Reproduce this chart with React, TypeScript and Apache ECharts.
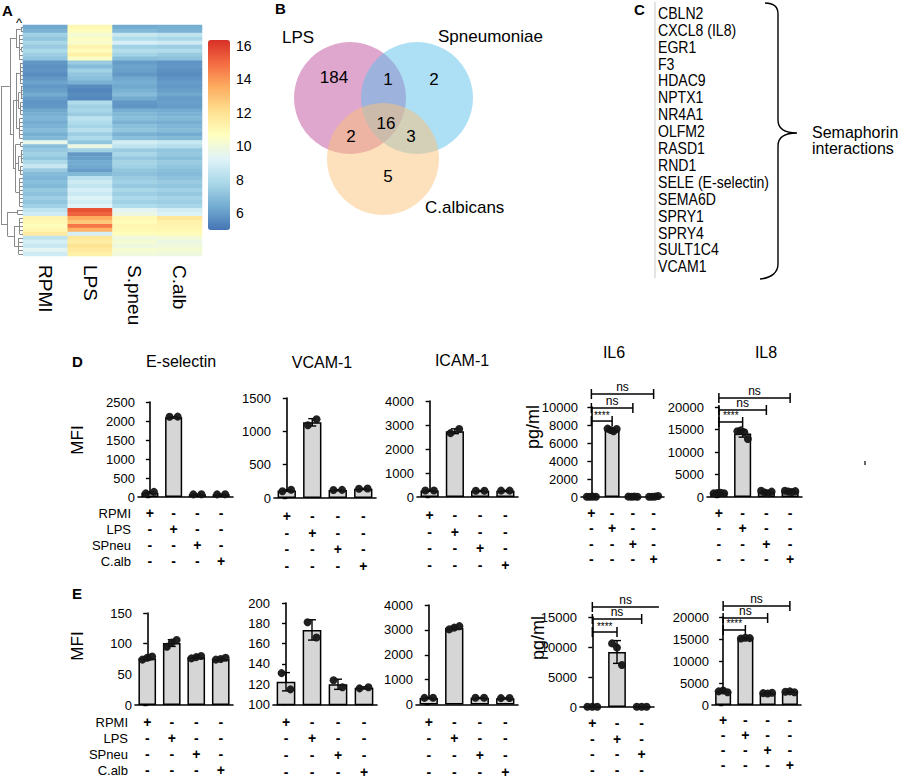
import React, { useEffect, useRef } from "react";
import * as echarts from "echarts";

// ---------------- DATA ----------------
const heatCols = ["RPMI", "LPS", "S.pneu", "C.alb"];
// rows top -> bottom, values per column (RPMI, LPS, S.pneu, C.alb)
const heatRows: number[][] = [
  [6.3, 11.0, 6.4, 6.5], [6.6, 10.8, 6.8, 6.6], [7.6, 10.2, 8.6, 8.4], [7.2, 10.6, 8.0, 7.8],
  [7.8, 10.4, 9.0, 8.8], [7.4, 11.2, 7.6, 7.5], [7.9, 10.9, 8.1, 8.0], [7.5, 11.4, 7.7, 7.4],
  [7.2, 10.5, 7.0, 7.1], [5.9, 7.4, 6.0, 5.8], [5.7, 6.9, 6.2, 5.9], [5.8, 7.6, 6.1, 5.7],
  [5.6, 7.2, 5.9, 5.6], [5.9, 7.0, 6.3, 5.8], [6.2, 6.6, 6.5, 6.0], [5.9, 5.6, 6.3, 5.9],
  [6.1, 5.4, 6.6, 6.1], [6.4, 5.6, 6.9, 6.3], [6.0, 5.5, 6.4, 6.0], [5.8, 8.0, 5.9, 6.1],
  [5.9, 7.6, 5.8, 6.0], [6.3, 7.8, 6.5, 6.4], [6.5, 7.4, 6.8, 6.6], [6.7, 8.3, 7.0, 6.8],
  [6.4, 8.0, 6.6, 6.5], [6.6, 7.7, 7.0, 6.7], [6.9, 8.2, 7.2, 6.9], [6.5, 7.5, 6.6, 6.4],
  [6.8, 7.9, 7.0, 6.8], [9.6, 7.2, 8.9, 8.6], [7.0, 9.8, 8.4, 8.1], [7.3, 7.6, 7.4, 7.2],
  [7.6, 5.9, 7.8, 7.3], [7.2, 6.1, 7.3, 7.0], [7.9, 6.4, 7.7, 7.4], [8.6, 6.3, 7.6, 7.2],
  [7.4, 6.0, 7.2, 7.0], [6.9, 6.8, 7.1, 6.9], [6.7, 8.3, 7.4, 7.1], [7.0, 8.8, 7.6, 7.4],
  [6.8, 8.5, 7.3, 7.2], [7.3, 9.0, 7.8, 7.6], [7.1, 8.7, 7.5, 7.3], [7.5, 9.2, 7.9, 7.7],
  [7.2, 8.9, 7.6, 7.5], [7.6, 9.3, 8.0, 7.8], [8.4, 15.6, 9.4, 8.9], [8.8, 15.2, 9.8, 9.2],
  [11.2, 13.6, 11.0, 11.8], [11.0, 12.8, 10.9, 11.3], [10.8, 14.8, 11.1, 11.2], [11.1, 13.4, 11.0, 11.0],
  [11.6, 9.0, 10.8, 10.9], [8.4, 11.8, 10.0, 10.1], [9.0, 11.5, 10.2, 9.8], [8.6, 12.0, 9.9, 10.0],
  [9.4, 11.7, 10.3, 10.2], [8.8, 11.4, 10.0, 9.9],
];
const colorbarTicks = [6, 8, 10, 12, 14, 16];
// dendrogram: [height, children], leaf = row index
const dendroTree: any = [1.0, [
  [0.6, [
    [0.32, [[0.1, [0, 1]], [0.18, [2, 3, 4, [0.08, [5, 6]], 7, 8]]]],
    [0.45, [
      [0.3, [[0.14, [9, 10, 11, 12, 13, 14]], [0.2, [[0.1, [15, 16, 17, 18]], [0.12, [19, 20, 21, 22]]]], [0.15, [23, 24, 25, 26, 27, 28]]]],
      [0.33, [[0.12, [29, 30]], [0.22, [[0.1, [31, 32, 33, 34]], [0.13, [35, 36, 37]]]], [0.16, [38, 39, 40, 41, 42, 43, 44, 45]]]],
    ]],
  ]],
  [0.7, [[0.25, [46, 47]], [0.4, [[0.15, [48, 49, 50, 51, 52]], [0.2, [53, 54, 55, 56, 57]]]]]],
]];

const vennSets = ["LPS", "Spneumoniae", "C.albicans"];
// LPS only, Spn only, Calb only, LPS∩Spn, LPS∩Calb, Spn∩Calb, all three
const vennCounts = [184, 2, 5, 1, 2, 3, 16];

const genes = ["CBLN2", "CXCL8 (IL8)", "EGR1", "F3", "HDAC9", "NPTX1", "NR4A1", "OLFM2", "RASD1", "RND1",
  "SELE (E-selectin)", "SEMA6D", "SPRY1", "SPRY4", "SULT1C4", "VCAM1"];
const geneGroup = ["Semaphorin", "interactions"];

const conditions = ["RPMI", "LPS", "SPneu", "C.alb"];
const catsAll = ["RPMI", "LPS", "SPneu", "C.alb"];
const catsIL6E = ["RPMI", "LPS", "SPneu"];
const panelTitles = ["E-selectin", "VCAM-1", "ICAM-1", "IL6", "IL8"];

// row D
const eselD_bars = [110, 2100, 70, 70];
const eselD_err = [20, 10, 5, 5];
const eselD_pts = [[95, 135], [2110, 2115], [70, 72], [70, 72]];
const vcamD_bars = [112, 1135, 120, 140];
const vcamD_err = [12, 55, 5, 5];
const vcamD_pts = [[100, 125], [1090, 1180], [120, 122], [140, 142]];
const icamD_bars = [270, 2740, 260, 265];
const icamD_err = [10, 100, 10, 10];
const icamD_pts = [[270, 272], [2660, 2830], [260, 262], [265, 267]];
const il6D_bars = [30, 7450, 40, 50];
const il6D_err = [10, 130, 10, 40];
const il6D_pts = [[30, 20, 40, 25], [7600, 7450, 7300, 7550], [40, 30, 50, 35], [20, 30, 40, 120]];
const il8D_bars = [870, 14100, 1100, 1250];
const il8D_err = [60, 800, 250, 120];
const il8D_pts = [[800, 900, 950, 850], [14600, 14800, 14400, 12900], [1400, 1000, 800, 1200], [1400, 1200, 1100, 1300]];
// row E
const eselE_bars = [76, 101, 78, 75];
const eselE_err = [2.5, 5.5, 2, 1.5];
const eselE_pts = [[74, 77, 79], [95, 102, 106], [76, 78, 80], [74, 75, 77]];
const vcamE_bars = [122.5, 173.5, 120, 116.5];
const vcamE_err = [9, 10, 5, 1];
const vcamE_pts = [[131, 115], [181, 166], [124, 117], [116, 117]];
const icamE_bars = [270, 3080, 275, 260];
const icamE_err = [10, 60, 10, 10];
const icamE_pts = [[270, 272], [3020, 3090, 3150], [275, 277], [260, 262]];
const il6E_bars = [40, 9170, 40];
const il6E_err = [10, 1900, 10];
const il6E_pts = [[30, 50, 40], [10600, 9900, 7000], [40, 50, 30]];
const il8E_bars = [3050, 15200, 2700, 3000];
const il8E_err = [200, 150, 100, 100];
const il8E_pts = [[3100, 3300, 2900], [15100, 15300, 15200], [2700, 2600, 2800], [3000, 3100, 2900]];

const sigPairs = [[0, 1, "****"], [0, 2, "ns"], [0, 3, "ns"]];

// ---------------- LAYOUT / STYLE ----------------
const FONT = "'Liberation Sans', Arial, sans-serif";

type PanelDef = {
  cats: string[]; bars: number[]; err: number[]; pts: number[][];
  min: number; max: number; interval: number; sig?: boolean;
  left: number; top: number; width: number; height: number; lh: number; margin: number;
  bracketY?: number[]; lastTo?: number; lastCap?: boolean;
};
const panels: PanelDef[] = [
  { cats: catsAll, bars: eselD_bars, err: eselD_err, pts: eselD_pts, min: 0, max: 2500, interval: 500, left: 138, top: 402, width: 95, height: 95, lh: 16, margin: 8 },
  { cats: catsAll, bars: vcamD_bars, err: vcamD_err, pts: vcamD_pts, min: 0, max: 1500, interval: 500, left: 274, top: 398, width: 102, height: 100, lh: 16.7, margin: 9.5 },
  { cats: catsAll, bars: icamD_bars, err: icamD_err, pts: icamD_pts, min: 0, max: 4000, interval: 1000, left: 417, top: 401, width: 101, height: 96, lh: 16.7, margin: 9.5 },
  { cats: catsAll, bars: il6D_bars, err: il6D_err, pts: il6D_pts, min: 0, max: 10000, interval: 2000, sig: true, left: 581, top: 407, width: 83, height: 90, lh: 15.3, margin: 8.3, bracketY: [8440, 9890, 11440] },
  { cats: catsAll, bars: il8D_bars, err: il8D_err, pts: il8D_pts, min: 0, max: 20000, interval: 5000, sig: true, left: 707, top: 407, width: 95, height: 90, lh: 15.3, margin: 8.3, bracketY: [16670, 19330, 22000] },
  { cats: catsAll, bars: eselE_bars, err: eselE_err, pts: eselE_pts, min: 0, max: 150, interval: 50, left: 135, top: 613, width: 98, height: 92, lh: 16, margin: 9 },
  { cats: catsAll, bars: vcamE_bars, err: vcamE_err, pts: vcamE_pts, min: 100, max: 200, interval: 20, left: 273, top: 603, width: 104, height: 102, lh: 16.7, margin: 8.6 },
  { cats: catsAll, bars: icamE_bars, err: icamE_err, pts: icamE_pts, min: 0, max: 4000, interval: 1000, left: 416, top: 605, width: 102, height: 100, lh: 16.7, margin: 8.6 },
  { cats: catsIL6E, bars: il6E_bars, err: il6E_err, pts: il6E_pts, min: 0, max: 15000, interval: 5000, sig: true, left: 580, top: 617, width: 74, height: 90, lh: 15.7, margin: 8, bracketY: [12500, 14670, 16670], lastTo: 2.7, lastCap: false },
  { cats: catsAll, bars: il8E_bars, err: il8E_err, pts: il8E_pts, min: 0, max: 20000, interval: 5000, sig: true, left: 712, top: 617, width: 89, height: 88, lh: 15, margin: 7.5, bracketY: [17050, 19770, 22500] },
];
const titlePos = [[181, 361], [322, 362], [462, 360], [614, 352], [766, 352]];
const jitter: Record<number, number[]> = { 1: [0], 2: [-0.17, 0.17], 3: [-0.2, 0, 0.2], 4: [-0.22, -0.07, 0.07, 0.22] };
const heatColors = ["#4575b4", "#74add1", "#abd9e9", "#e0f3f8", "#ffffbf", "#fee090", "#fdae61", "#f46d43", "#d73027"];

const vennCircles = [[350, 98], [417, 98], [383, 159]];
const vennR = 56;
const vennFill = ["rgba(192,80,158,0.5)", "rgba(91,192,235,0.5)", "rgba(252,194,122,0.5)"];
const vennCountPos = [[334, 77], [434, 79], [388, 176], [388, 79], [351, 136], [411, 136], [386, 123]];
const vennNamePos = [[282, 37], [438, 36], [425, 207]];

const bracePath = "M 765 3 C 772 3 778 6 778 14 L 778 120 C 778 128 784 133 797 133 C 784 133 778 138 778 146 L 778 264 C 778 272 772 278 760 279";

function buildDendro(): number[][][] {
  const segs: number[][][] = [];
  const walk = (node: any): { y: number; h: number } => {
    if (typeof node === "number") return { y: node, h: 0 };
    const [h, ch] = node;
    const res = ch.map(walk);
    res.forEach((r: any) => segs.push([[r.h, r.y], [h, r.y]]));
    const ys = res.map((r: any) => r.y);
    const mn = Math.min(...ys), mx = Math.max(...ys);
    segs.push([[h, mn], [h, mx]]);
    return { y: (mn + mx) / 2, h };
  };
  walk(dendroTree);
  return segs;
}

function buildOption(): any {
  const grid: any[] = [];
  const xAxis: any[] = [];
  const yAxis: any[] = [];
  const series: any[] = [];
  const graphic: any[] = [];

  // heatmap
  grid.push({ left: 23, top: 25, width: 179, height: 231 });
  xAxis.push({ type: "category", gridIndex: 0, data: heatCols, axisLine: { show: false }, axisTick: { show: false },
    axisLabel: { rotate: -90, fontSize: 19, margin: 9, color: "#000", fontFamily: FONT } });
  yAxis.push({ type: "category", gridIndex: 0, data: heatRows.map((_, i) => String(i)), inverse: true, show: false });
  series.push({ type: "heatmap", xAxisIndex: 0, yAxisIndex: 0, silent: true,
    data: heatRows.flatMap((r, i) => r.map((v, j) => [j, i, v])), itemStyle: { borderWidth: 0 } });

  // dendrogram
  grid.push({ left: 1, top: 25, width: 22, height: 231 });
  xAxis.push({ type: "value", gridIndex: 1, min: 0, max: 1, inverse: true, show: false });
  yAxis.push({ type: "value", gridIndex: 1, min: -0.5, max: heatRows.length - 0.5, inverse: true, show: false });
  series.push({ type: "lines", coordinateSystem: "cartesian2d", xAxisIndex: 1, yAxisIndex: 1, silent: true,
    data: buildDendro().map((s) => ({ coords: s })), lineStyle: { color: "#8a8a8a", width: 1, opacity: 1 } });

  // colorbar labels
  grid.push({ left: 208, top: 40, width: 22, height: 190 });
  xAxis.push({ type: "value", gridIndex: 2, show: false, min: 0, max: 1 });
  yAxis.push({ type: "value", gridIndex: 2, position: "right", min: 4.98, max: 16.36, axisLine: { show: false },
    axisTick: { show: false }, splitLine: { show: false },
    axisLabel: { customValues: colorbarTicks, fontSize: 14, margin: 6, color: "#000", fontFamily: FONT } });

  // bar panels
  panels.forEach((p, k) => {
    const gi = 3 + k;
    const xc = xAxis.length;
    const xv = xc + 1;
    const yi = yAxis.length;
    grid.push({ left: p.left, top: p.top, width: p.width, height: p.height });
    xAxis.push({ type: "category", gridIndex: gi, data: p.cats,
      axisLine: { lineStyle: { color: "#000", width: 1.6 } },
      axisTick: { alignWithLabel: true, length: 4, lineStyle: { color: "#000", width: 1.4 } },
      axisLabel: { interval: 0, color: "#000", fontSize: 14, fontWeight: "bold", fontFamily: FONT, lineHeight: p.lh, margin: p.margin,
        formatter: (v: string) => conditions.map((c) => (c === v ? "+" : "-")).join("\n") } });
    xAxis.push({ type: "value", gridIndex: gi, min: -0.5, max: p.cats.length - 0.5, show: false });
    yAxis.push({ type: "value", gridIndex: gi, min: p.min, max: p.max, interval: p.interval,
      axisLine: { show: true, lineStyle: { color: "#000", width: 1.6 } },
      axisTick: { show: true, length: 4, lineStyle: { color: "#000", width: 1.4 } },
      splitLine: { show: false },
      axisLabel: { color: "#000", fontSize: 13, fontFamily: FONT, margin: 3, formatter: (v: number) => String(v) } });
    series.push({ type: "bar", xAxisIndex: xc, yAxisIndex: yi, data: p.bars, barWidth: "72%", silent: true,
      itemStyle: { color: "#d6d6d6", borderColor: "#000", borderWidth: 1.5 }, z: 2 });
    series.push({ type: "custom", xAxisIndex: xv, yAxisIndex: yi, silent: true, z: 3,
      data: p.bars.map((b, i) => [i, b - p.err[i], b + p.err[i]]),
      renderItem: (params: any, api: any) => {
        const a = api.coord([api.value(0), api.value(2)]);
        const b = api.coord([api.value(0), api.value(1)]);
        const st = { stroke: "#000", lineWidth: 1.4 };
        return { type: "group", children: [
          { type: "line", shape: { x1: a[0], y1: a[1], x2: b[0], y2: b[1] }, style: st },
          { type: "line", shape: { x1: a[0] - 4, y1: a[1], x2: a[0] + 4, y2: a[1] }, style: st },
          { type: "line", shape: { x1: b[0] - 4, y1: b[1], x2: b[0] + 4, y2: b[1] }, style: st },
        ] };
      } });
    series.push({ type: "scatter", xAxisIndex: xv, yAxisIndex: yi, silent: true, z: 4, symbolSize: 8,
      itemStyle: { color: "#151515", opacity: 0.95 },
      data: p.pts.flatMap((arr, i) => arr.map((v, j) => [i + jitter[arr.length][j], v])) });
    if (p.sig && p.bracketY) {
      const bdata = sigPairs.map((s, i) => {
        const last = i === sigPairs.length - 1;
        const to = last && p.lastTo !== undefined ? p.lastTo : (s[1] as number);
        const cap = last && p.lastCap === false ? 0 : 1;
        return [s[0], to, p.bracketY![i], cap];
      });
      series.push({ type: "custom", xAxisIndex: xv, yAxisIndex: yi, silent: true, z: 5, clip: false, data: bdata,
        renderItem: (params: any, api: any) => {
          const a = api.coord([api.value(0), api.value(2)]);
          const b = api.coord([api.value(1), api.value(2)]);
          const st = { stroke: "#000", lineWidth: 1.5 };
          const label = sigPairs[params.dataIndex][2] as string;
          const ch: any[] = [
            { type: "line", shape: { x1: a[0], y1: a[1], x2: b[0], y2: b[1] }, style: st },
            { type: "line", shape: { x1: a[0], y1: a[1] - 5, x2: a[0], y2: a[1] + 5 }, style: st },
            { type: "text", x: (a[0] + b[0]) / 2, y: a[1] - 1,
              style: { text: label, fill: "#000", align: "center", verticalAlign: "bottom",
                fontSize: label === "ns" ? 12 : 10, fontFamily: FONT } },
          ];
          if (api.value(3) === 1) ch.push({ type: "line", shape: { x1: b[0], y1: b[1] - 5, x2: b[0], y2: b[1] + 5 }, style: st });
          return { type: "group", children: ch };
        } });
    }
  });

  // ---------- graphic ----------
  const txt = (text: string, x: number, y: number, o: any = {}) => ({
    type: "text", x, y, silent: true, rotation: o.rotation || 0, scaleX: o.scaleX || 1,
    style: { text, fill: "#000", fontSize: o.fontSize || 14, fontFamily: o.fontFamily || FONT,
      fontWeight: o.fontWeight || "normal", align: o.align || "left", verticalAlign: o.verticalAlign || "middle" },
  });
  // panel letters
  graphic.push(txt("A", 2, 10, { fontSize: 15, fontWeight: "bold" }));
  graphic.push(txt("B", 275, 8, { fontSize: 15, fontWeight: "bold" }));
  graphic.push(txt("C", 634, 9, { fontSize: 15, fontWeight: "bold" }));
  graphic.push(txt("D", 72, 361, { fontSize: 15, fontWeight: "bold" }));
  graphic.push(txt("E", 72, 593, { fontSize: 15, fontWeight: "bold" }));
  graphic.push(txt("^", 16, 22, { fontSize: 13 }));

  // venn
  vennCircles.forEach((c, i) => graphic.push({ type: "circle", silent: true, shape: { cx: c[0], cy: c[1], r: vennR }, style: { fill: vennFill[i] } }));
  vennCounts.forEach((v, i) => graphic.push(txt(String(v), vennCountPos[i][0], vennCountPos[i][1], { fontSize: 17, align: "center" })));
  vennSets.forEach((s, i) => graphic.push(txt(s, vennNamePos[i][0], vennNamePos[i][1], { fontSize: 17 })));

  // gene list
  graphic.push({ type: "line", silent: true, shape: { x1: 655, y1: 2, x2: 655, y2: 278 }, style: { stroke: "#c8c8c8", lineWidth: 1 } });
  genes.forEach((g, i) => graphic.push(txt(g, 658, 13 + i * 16.9, { fontSize: 16, scaleX: 0.88 })));
  graphic.push({ type: "brace", silent: true, x: 0, y: 0, style: { stroke: "#000", fill: null, lineWidth: 1.4 } });
  graphic.push(txt(geneGroup[0], 812, 132, { fontSize: 16 }));
  graphic.push(txt(geneGroup[1], 812, 148, { fontSize: 16 }));

  // titles
  panelTitles.forEach((t, i) => graphic.push(txt(t, titlePos[i][0], titlePos[i][1], { fontSize: 16, align: "center" })));
  // y labels
  graphic.push(txt("MFI", 77, 440, { fontSize: 17, align: "center", rotation: Math.PI / 2 }));
  graphic.push(txt("MFI", 77, 646, { fontSize: 17, align: "center", rotation: Math.PI / 2 }));
  graphic.push(txt("pg/ml", 533, 427, { fontSize: 18, align: "center", rotation: Math.PI / 2 }));
  graphic.push(txt("pg/ml", 538, 638, { fontSize: 18, align: "center", rotation: Math.PI / 2 }));
  // condition row labels (aligned with first panel label rows)
  [0, 5].forEach((pi) => {
    const p = panels[pi];
    const base = p.top + p.height + p.margin;
    conditions.forEach((c, j) => graphic.push(txt(c, p.left - 7, base + p.lh * (j + 0.5), { fontSize: 13, align: "right" })));
  });
  // stray mark
  graphic.push({ type: "line", silent: true, shape: { x1: 865, y1: 461, x2: 865, y2: 465 }, style: { stroke: "#333", lineWidth: 1.5 } });

  return {
    animation: false,
    backgroundColor: "#fff",
    grid, xAxis, yAxis, series, graphic,
    visualMap: [{ type: "continuous", min: 5, max: 16.4, seriesIndex: 0, left: 208, top: 40, itemWidth: 22, itemHeight: 190,
      calculable: false, padding: 0, inRange: { color: heatColors }, textStyle: { color: "#000" } }],
  };
}

export default function App() {
  const ref = useRef<HTMLDivElement>(null);
  useEffect(() => {
    document.body.style.margin = "0";
    echarts.graphic.registerShape("brace", echarts.graphic.extendPath(bracePath, {}) as any);
    const chart = echarts.init(ref.current!, null, { renderer: "svg" });
    chart.setOption(buildOption());
    return () => chart.dispose();
  }, []);
  return <div ref={ref} style={{ width: 909, height: 780 }} />;
}
